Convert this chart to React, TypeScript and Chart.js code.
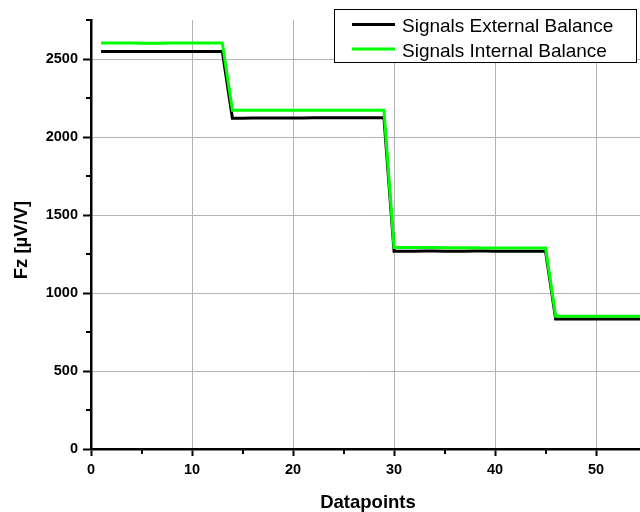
import React, { useEffect, useRef } from "react";
import { Chart, registerables } from "chart.js";

Chart.register(...registerables);

const datapoints = [
  1, 2, 3, 4, 5, 6, 7, 8, 9, 10, 11, 12, 13, 14, 15, 16, 17, 18, 19, 20,
  21, 22, 23, 24, 25, 26, 27, 28, 29, 30, 31, 32, 33, 34, 35, 36, 37, 38, 39, 40,
  41, 42, 43, 44, 45, 46, 47, 48, 49, 50, 51, 52, 53, 54, 55,
];

const externalBalance = [
  2548, 2548, 2548, 2548, 2548, 2548, 2548, 2548, 2548, 2548, 2548, 2548, 2548,
  2120, 2120, 2121, 2121, 2122, 2122, 2122, 2122, 2123, 2123, 2123, 2123, 2124, 2124, 2124, 2124,
  1268, 1268, 1267, 1269, 1270, 1268, 1267, 1268, 1270, 1269, 1268, 1268, 1268, 1268, 1268, 1268,
  833, 833, 833, 833, 833, 833, 833, 833, 833, 833,
];

const internalBalance = [
  2602, 2602, 2602, 2602, 2601, 2601, 2601, 2602, 2602, 2602, 2602, 2602, 2602,
  2172, 2172, 2172, 2172, 2172, 2172, 2172, 2172, 2172, 2172, 2172, 2172, 2172, 2172, 2172, 2172,
  1292, 1292, 1291, 1291, 1291, 1290, 1290, 1290, 1290, 1289, 1289, 1289, 1289, 1289, 1289, 1288,
  851, 851, 851, 851, 851, 851, 851, 851, 851, 851,
];

const seriesNames = ["Signals External Balance", "Signals Internal Balance"];
const seriesColors = ["#000000", "#00ff00"];
const xTitle = "Datapoints";
const yTitle = "Fz [\u00b5V/V]";
const xMajorTicks = [0, 10, 20, 30, 40, 50];
const xMinorTicks = [5, 15, 25, 35, 45];
const yMajorTicks = [0, 500, 1000, 1500, 2000, 2500];
const yMinorTicks = [250, 750, 1250, 1750, 2250, 2750];

const FONT = "'Liberation Sans', Arial, Helvetica, sans-serif";

const overlayPlugin = {
  id: "overlay",
  afterDraw(chart: any) {
    const ctx = chart.ctx as CanvasRenderingContext2D;
    const xs = chart.scales.x;
    const ys = chart.scales.y;
    const area = chart.chartArea;
    ctx.save();
    // minor ticks
    ctx.strokeStyle = "#000";
    ctx.lineWidth = 2;
    ctx.beginPath();
    for (const v of yMinorTicks) {
      const py = Math.round(ys.getPixelForValue(v));
      ctx.moveTo(area.left - 5, py);
      ctx.lineTo(area.left, py);
    }
    for (const v of xMinorTicks) {
      const px = Math.round(xs.getPixelForValue(v));
      ctx.moveTo(px, area.bottom);
      ctx.lineTo(px, area.bottom + 5);
    }
    ctx.stroke();

    // axis titles
    ctx.fillStyle = "#000";
    ctx.font = `bold 18.5px ${FONT}`;
    ctx.textAlign = "center";
    ctx.textBaseline = "alphabetic";
    ctx.fillText(xTitle, 368, 508);
    ctx.save();
    ctx.translate(26.5, 240);
    ctx.rotate(-Math.PI / 2);
    ctx.fillText(yTitle, 0, 0);
    ctx.restore();

    // legend
    ctx.fillStyle = "#fff";
    ctx.fillRect(334.5, 9.5, 302, 53);
    ctx.strokeStyle = "#000";
    ctx.lineWidth = 1;
    ctx.strokeRect(334.5, 9.5, 302, 53);
    const rows = [24.5, 49];
    seriesNames.forEach((name, i) => {
      ctx.strokeStyle = seriesColors[i];
      ctx.lineWidth = 3;
      ctx.beginPath();
      ctx.moveTo(352, rows[i]);
      ctx.lineTo(395, rows[i]);
      ctx.stroke();
      ctx.fillStyle = "#000";
      ctx.font = `19px ${FONT}`;
      ctx.textAlign = "left";
      ctx.textBaseline = "alphabetic";
      ctx.fillText(name, 402, rows[i] + 7.5);
    });
    ctx.restore();
  },
};

export default function App() {
  const canvasRef = useRef<HTMLCanvasElement | null>(null);

  useEffect(() => {
    const canvas = canvasRef.current;
    if (!canvas) return;
    const chart = new Chart(canvas, {
      type: "line",
      data: {
        datasets: [
          {
            label: seriesNames[0],
            data: datapoints.map((x, i) => ({ x, y: externalBalance[i] })),
            borderColor: seriesColors[0],
            backgroundColor: seriesColors[0],
            borderWidth: 3,
            pointRadius: 0,
            tension: 0,
            order: 1,
          },
          {
            label: seriesNames[1],
            data: datapoints.map((x, i) => ({ x, y: internalBalance[i] })),
            borderColor: seriesColors[1],
            backgroundColor: seriesColors[1],
            borderWidth: 3,
            pointRadius: 0,
            tension: 0,
            order: 0,
          },
        ],
      },
      options: {
        responsive: false,
        animation: false,
        layout: { padding: { top: 20, right: 0, left: 0, bottom: 0 } },
        plugins: {
          legend: { display: false },
          title: { display: false },
          tooltip: { enabled: false },
        },
        scales: {
          x: {
            type: "linear",
            min: 0,
            max: 54.35,
            afterFit: (scale: any) => {
              scale.height = 63;
            },
            afterBuildTicks: (scale: any) => {
              scale.ticks = xMajorTicks.map((v) => ({ value: v }));
            },
            border: { display: true, color: "#000", width: 2.5 },
            grid: {
              color: "#b4b4b4",
              lineWidth: 1,
              drawTicks: true,
              tickLength: 7,
              tickColor: "#000",
              tickWidth: 2,
            },
            ticks: {
              color: "#000",
              padding: 5,
              maxRotation: 0,
              callback: (v: any) => String(v),
              font: { family: FONT, size: 14.5, weight: "bold" },
            },
          },
          y: {
            type: "linear",
            min: 0,
            max: 2750,
            afterFit: (scale: any) => {
              scale.width = 91;
            },
            afterBuildTicks: (scale: any) => {
              scale.ticks = yMajorTicks.map((v) => ({ value: v }));
            },
            border: { display: true, color: "#000", width: 2.5 },
            grid: {
              color: "#b4b4b4",
              lineWidth: 1,
              drawTicks: true,
              tickLength: 8,
              tickColor: "#000",
              tickWidth: 2,
            },
            ticks: {
              color: "#000",
              padding: 5,
              callback: (v: any) => String(v),
              font: { family: FONT, size: 14.5, weight: "bold" },
            },
          },
        },
      },
      plugins: [overlayPlugin],
    });
    return () => chart.destroy();
  }, []);

  return (
    <div style={{ position: "absolute", left: 0, top: 0, width: 640, height: 512, background: "#fff" }}>
      <canvas ref={canvasRef} width={640} height={512} style={{ display: "block" }} />
    </div>
  );
}
